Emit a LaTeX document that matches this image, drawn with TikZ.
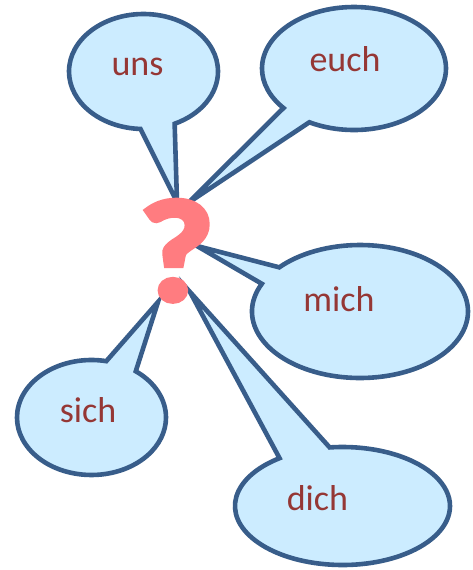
\documentclass[tikz,border=0pt]{standalone}
\usepackage{fontspec}
\setmainfont{Carlito}
\newfontfamily\qfont[BoldFeatures={FakeBold=4}]{Carlito}
\usetikzlibrary{shapes,shapes.callouts,positioning}
\definecolor{bubblefill}{RGB}{204,236,255}
\definecolor{bubbleline}{RGB}{56,93,138}
\definecolor{wordred}{RGB}{149,55,53}
\definecolor{qpink}{RGB}{255,124,128}

\begin{document}
\begin{tikzpicture}[x=1pt,y=-1pt]
            \tikzstyle{bubble} = [ellipse callout, draw=bubbleline, fill=bubblefill, line width=4.6pt, inner sep=0pt]
            \tikzstyle{word} = [anchor=base, text=wordred, font=\fontsize{36}{36}\selectfont]
            \useasboundingbox (0,0) rectangle (472,570);

            % tips of the tails, round the question mark
            \coordinate (tipuns) at (177,202);
            \coordinate (tipeuch) at (188,203);
            \coordinate (tipmich) at (197,246);
            \coordinate (tipsich) at (158,302);
            \coordinate (tipdich) at (190,292);

            \node[bubble, minimum width=149pt, minimum height=115pt, callout pointer arc=27, callout absolute pointer={(tipuns)}] (bubuns) at (143.5,71.5) {};
            \node[bubble, minimum width=184pt, minimum height=123pt, callout pointer arc=21, callout absolute pointer={(tipeuch)}] (bubeuch) at (354,68.5) {};
            \node[bubble, minimum width=216pt, minimum height=133pt, callout pointer arc=17, callout absolute pointer={(tipmich)}] (bubmich) at (360,311.5) {};
            \node[bubble, minimum width=149pt, minimum height=115pt, callout pointer arc=25, callout absolute pointer={(tipsich)}] (bubsich) at (91.5,417.5) {};
            \node[bubble, minimum width=215pt, minimum height=118pt, callout pointer arc=29, callout absolute pointer={(tipdich)}] (bubdich) at (342.5,506) {};

            \node[word] (uns) at (137.5,75) {uns};
            \node[word] (euch) at (345,71) {euch};
            \node[word] (mich) at (339,311) {mich};
            \node[word] (sich) at (88,422) {sich};
            \node[word] (dich) at (317.5,510) {dich};

            \node[anchor=base, inner sep=0pt, text=qpink, font=\qfont\fontsize{144}{144}\selectfont\bfseries] (q) at (176.5,300) {\scalebox{1.12}[1]{?}};
      \end{tikzpicture}
\end{document}
